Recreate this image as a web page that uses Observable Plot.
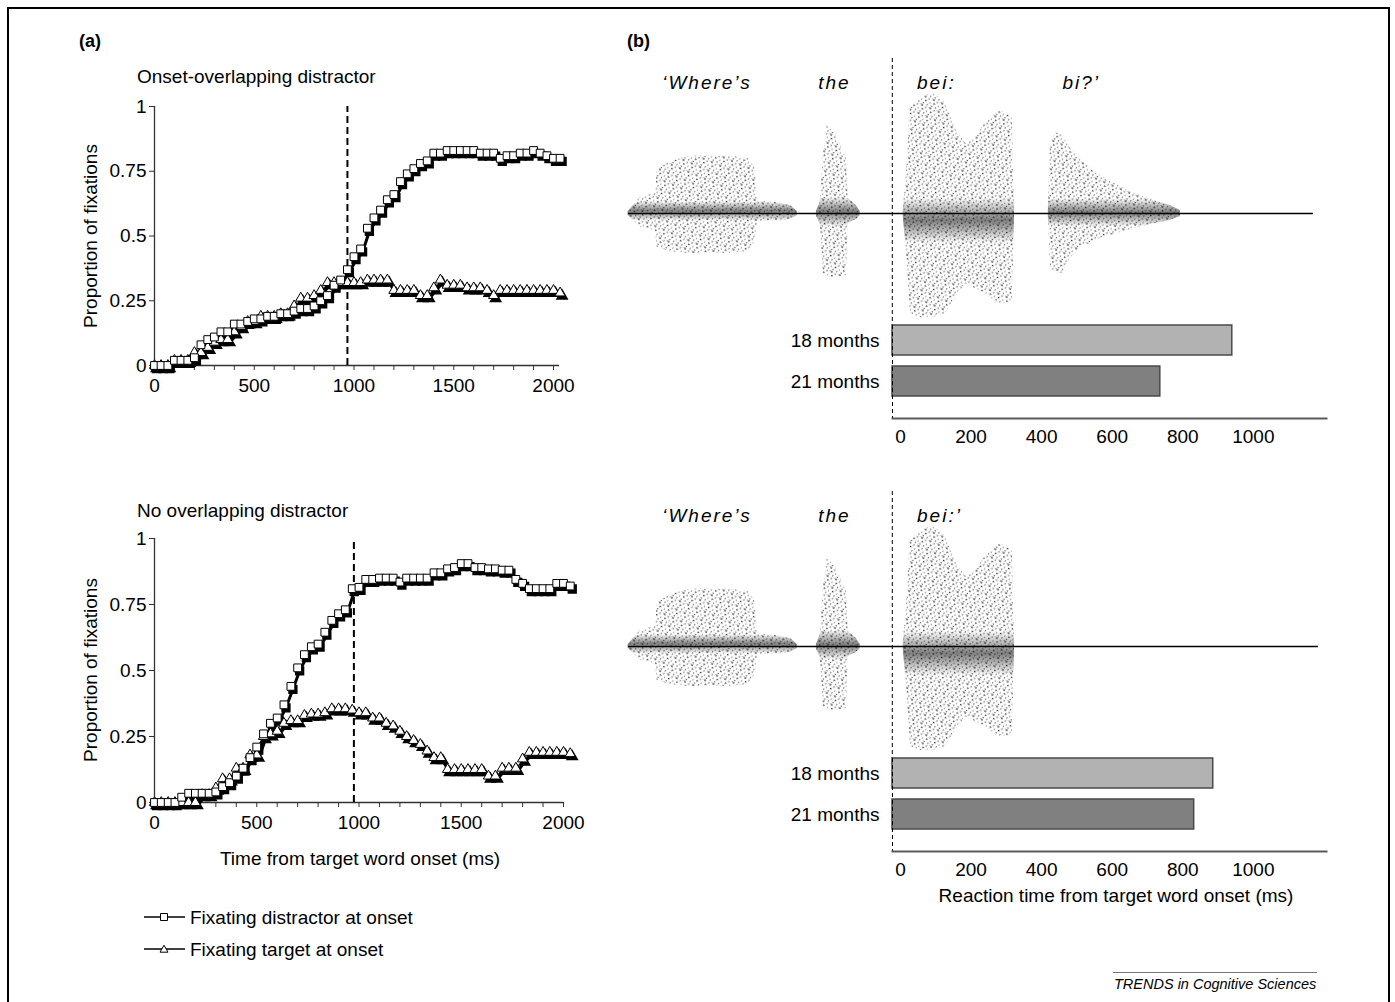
<!DOCTYPE html>
<html>
<head>
<meta charset="utf-8">
<script src="https://cdn.jsdelivr.net/npm/d3@7"></script>
<script src="https://cdn.jsdelivr.net/npm/@observablehq/plot@0.6"></script>
<style>
  html,body{margin:0;padding:0;background:#fff;}
  #fig{position:relative;width:1395px;height:1002px;overflow:hidden;font-family:"Liberation Sans",Arial,Helvetica,sans-serif;color:#000;}
  #frame{position:absolute;left:7px;top:7px;width:1383px;height:1030px;border:2px solid #000;box-sizing:border-box;}
  .t{position:absolute;white-space:nowrap;line-height:1;font-size:19px;}
  .mid{transform:translate(0,-50%);}
  .ctr{transform:translate(-50%,-50%);}
  .rot{transform:translate(-50%,-50%) rotate(-90deg);}
  .chart{position:absolute;}
  .chart svg{overflow:visible;}
</style>
</head>
<body>
<div id="fig">
  <div id="frame"></div>
  <svg width="0" height="0" style="position:absolute;left:0;top:0">
    <defs>
      <pattern id="stip" width="9" height="9" patternUnits="userSpaceOnUse" patternTransform="rotate(23)">
        <circle cx="1" cy="1" r="0.85" fill="#111"/>
        <circle cx="5.2" cy="1.9" r="0.7" fill="#3a3a3a"/>
        <circle cx="2.8" cy="4.6" r="0.8" fill="#1a1a1a"/>
        <circle cx="7.4" cy="5.1" r="0.65" fill="#555"/>
        <circle cx="1.3" cy="7.6" r="0.7" fill="#2a2a2a"/>
        <circle cx="5.6" cy="7.8" r="0.6" fill="#111"/>
        <circle cx="8.2" cy="0.6" r="0.5" fill="#777"/>
      </pattern>
      <linearGradient id="core" x1="0" y1="0" x2="0" y2="1">
        <stop offset="0" stop-color="#000" stop-opacity="0"/>
        <stop offset="0.47" stop-color="#000" stop-opacity="0"/>
        <stop offset="0.57" stop-color="#000" stop-opacity="0.5"/>
        <stop offset="0.67" stop-color="#000" stop-opacity="0"/>
        <stop offset="1" stop-color="#000" stop-opacity="0"/>
      </linearGradient>
    </defs>
  </svg>
</div>
<script>
// ---------------- DATA ----------------
// (a) eye-movement curves, sampled every video frame (ms from target word onset)
const timeMs = [0,33,67,100,133,167,200,233,267,300,333,367,400,433,467,500,533,567,600,633,667,700,733,767,800,833,867,900,933,967,1000,1033,1067,1100,1133,1167,1200,1233,1267,1300,1333,1367,1400,1433,1467,1500,1533,1567,1600,1633,1667,1700,1733,1767,1800,1833,1867,1900,1933,1967,2000,2033];

// Onset-overlapping distractor panel
const overlapDistractor = [0,0,0,0.02,0.02,0.02,0.03,0.08,0.10,0.11,0.13,0.13,0.16,0.16,0.17,0.18,0.18,0.19,0.19,0.20,0.20,0.21,0.22,0.22,0.23,0.25,0.27,0.31,0.33,0.37,0.42,0.45,0.53,0.57,0.60,0.64,0.66,0.71,0.74,0.76,0.78,0.79,0.82,0.82,0.83,0.83,0.83,0.83,0.83,0.82,0.82,0.82,0.80,0.81,0.81,0.82,0.82,0.83,0.82,0.81,0.80,0.80];
const overlapTarget = [0,0,0,0.02,0.02,0.02,0.05,0.05,0.07,0.09,0.10,0.10,0.13,0.15,0.17,0.17,0.19,0.19,0.19,0.20,0.20,0.23,0.26,0.26,0.27,0.29,0.32,0.32,0.32,0.32,0.32,0.32,0.33,0.33,0.33,0.33,0.29,0.29,0.29,0.29,0.27,0.27,0.30,0.33,0.31,0.31,0.31,0.30,0.30,0.30,0.29,0.27,0.29,0.29,0.29,0.29,0.29,0.29,0.29,0.29,0.29,0.28];

// No overlapping distractor panel
const noOverlapDistractor = [0,0,0,0,0.02,0.035,0.035,0.035,0.035,0.04,0.06,0.075,0.10,0.13,0.17,0.21,0.26,0.30,0.32,0.37,0.44,0.51,0.56,0.59,0.60,0.645,0.69,0.715,0.73,0.81,0.815,0.845,0.845,0.85,0.85,0.85,0.835,0.85,0.85,0.85,0.85,0.87,0.87,0.885,0.89,0.905,0.905,0.89,0.89,0.885,0.885,0.88,0.88,0.845,0.83,0.81,0.81,0.81,0.81,0.83,0.83,0.82];
const noOverlapTarget = [0,0,0,0,0,0,0,0.03,0.03,0.055,0.09,0.09,0.13,0.13,0.18,0.18,0.25,0.26,0.27,0.30,0.31,0.31,0.33,0.335,0.335,0.34,0.355,0.355,0.355,0.35,0.34,0.34,0.32,0.32,0.30,0.29,0.27,0.25,0.235,0.22,0.195,0.17,0.17,0.125,0.125,0.125,0.125,0.125,0.125,0.10,0.10,0.13,0.13,0.13,0.165,0.19,0.19,0.19,0.19,0.19,0.19,0.185];

const onsetLineMs = {overlap: 967, noOverlap: 975};
const xTickMs = [0,100,200,300,400,500,600,700,800,900,1000,1100,1200,1300,1400,1500,1600,1700,1800,1900,2000];
const xLabelMs = [0,500,1000,1500,2000];
const yTicks = [0,0.25,0.5,0.75,1];

// (b) reaction times
const ageGroups = ["18 months", "21 months"];
const rtTwoWordMs = [963, 759];   // 'Where's the bei: bi?'
const rtOneWordMs = [909, 855];   // 'Where's the bei:'
const rtTicks = [0,200,400,600,800,1000];

// (b) utterance words and their start times (ms relative to target word onset)
const wordsTop = ["\u2018Where\u2019s", "the", "bei:", "bi?\u2019"];
const wordsBottom = ["\u2018Where\u2019s", "the", "bei:\u2019"];
const wordStartMs = [-652, -210, 70, 482];

// waveform amplitude envelopes: [ms, upper amplitude, lower amplitude] (px units)
const envWheres = [[-748,2,2],[-714,16,14],[-671,20,17],[-666,43,34],[-629,52,38],[-575,57,40],[-516,58,40],[-459,57,40],[-408,55,38],[-388,45,28],[-382,12,8],[-331,11,8],[-289,8,6],[-269,2,2]];
const envThe = [[-215,2,2],[-204,12,12],[-195,60,60],[-184,88,64],[-161,80,64],[-130,55,62],[-125,15,10],[-102,8,6],[-91,2,2]];
const envBei = [[31,3,3],[40,40,40],[51,106,100],[79,115,104],[116,121,104],[150,110,100],[178,85,85],[207,70,70],[235,75,75],[263,90,80],[300,103,90],[329,100,90],[340,95,85],[346,5,5]];
const envBi = [[442,3,3],[448,70,55],[462,81,60],[482,78,60],[504,65,45],[535,53,34],[589,38,25],[666,23,17],[731,14,11],[788,8,7],[816,3,3]];
const waveSpanTop = [-748, 1193];
const waveSpanBottom = [-748, 1207];

// ---------------- DRAWING ----------------
const FONT = '"Liberation Sans", Arial, Helvetica, sans-serif';
const fig = document.getElementById("fig");

function place(node, left, top) {
  const w = document.createElement("div");
  w.className = "chart";
  w.style.left = left + "px";
  w.style.top = top + "px";
  w.appendChild(node);
  fig.appendChild(w);
}
function label(text, x, y, cls, extra) {
  const d = document.createElement("div");
  d.className = "t " + (cls || "mid");
  d.textContent = text;
  d.style.left = x + "px";
  d.style.top = y + "px";
  if (extra) Object.assign(d.style, extra);
  fig.appendChild(d);
  return d;
}

function fixationChart(dist, targ, onset, box) {
  const rows = timeMs.map((t, i) => ({t, dist: dist[i], targ: targ[i]}));
  const sh = {dx: 2, dy: 3};
  return Plot.plot({
    width: box.width, height: box.height,
    marginLeft: box.ml, marginRight: box.mr, marginTop: box.mt, marginBottom: box.mb,
    x: {domain: [0, box.xEnd]},
    y: {domain: [0, 1]},
    style: {fontFamily: FONT, fontSize: "19px", color: "#000", background: "none", overflow: "visible"},
    marks: [
      Plot.axisX({ticks: xTickMs, tickSize: 5, tickPadding: 8, label: null, stroke: "#333",
                  tickFormat: d => xLabelMs.includes(d) ? String(d) : ""}),
      Plot.axisY({ticks: yTicks, tickSize: 5, tickPadding: 3, label: null, stroke: "#333",
                  tickFormat: d => String(d)}),
      Plot.ruleY([0], {x1: 0, x2: box.xEnd, stroke: "#333", strokeWidth: 1.3}),
      Plot.ruleX([0], {y1: 0, y2: 1, stroke: "#333", strokeWidth: 1.3}),
      Plot.ruleX([onset], {y1: 0, y2: 1, stroke: "#000", strokeWidth: 2, strokeDasharray: "7,4"}),
      Plot.line(rows, {x: "t", y: "targ", stroke: "#000", strokeWidth: 3, ...sh}),
      Plot.line(rows, {x: "t", y: "dist", stroke: "#000", strokeWidth: 3, ...sh}),
      Plot.dot(rows, {x: "t", y: "targ", symbol: "triangle", r: 3.8, fill: "#000", stroke: "#000", ...sh}),
      Plot.dot(rows, {x: "t", y: "dist", symbol: "square", r: 4.4, fill: "#000", stroke: "#000", ...sh}),
      Plot.dot(rows, {x: "t", y: "targ", symbol: "triangle", r: 3.8, fill: "#fff", stroke: "#000", strokeWidth: 1}),
      Plot.dot(rows, {x: "t", y: "dist", symbol: "square", r: 4.4, fill: "#fff", stroke: "#000", strokeWidth: 1})
    ]
  });
}

function waveChart(envs, span, words) {
  const names = ["w", "t", "b", "b2"];
  const rows = envs.flatMap((env, k) => env.map(([ms, up, dn]) => ({blob: names[k], ms, up, dn: -dn})));
  const wordRows = words.map((w, i) => ({w, ms: wordStartMs[i]}));
  return Plot.plot({
    width: 740, height: 270, marginLeft: 20, marginRight: 14, marginTop: 3, marginBottom: 0,
    x: {domain: [-770, 1230], axis: null},
    y: {domain: [-112, 155], axis: null},
    style: {fontFamily: FONT, fontSize: "19px", background: "none", overflow: "visible", letterSpacing: "2px"},
    marks: [
      Plot.areaY(rows, {x: "ms", y1: "dn", y2: "up", z: "blob", fill: "url(#stip)"}),
      Plot.areaY(rows, {x: "ms", y1: "dn", y2: "up", z: "blob", fill: "url(#core)"}),
      Plot.ruleY([0], {x1: span[0], x2: span[1], stroke: "#000", strokeWidth: 1.6}),
      Plot.ruleX([0], {stroke: "#000", strokeWidth: 1, strokeDasharray: "4,3"}),
      Plot.text(wordRows, {x: "ms", text: "w", frameAnchor: "top", dy: 17, textAnchor: "start",
                           fontStyle: "italic", fill: "#000"})
    ]
  });
}

function barChart(values) {
  const rows = ageGroups.map((age, i) => ({age, ms: values[i]}));
  return Plot.plot({
    width: 740, height: 135, marginLeft: 292, marginRight: 14, marginTop: 0, marginBottom: 42,
    x: {domain: [0, 1230]},
    y: {domain: ageGroups, paddingInner: 0.262, paddingOuter: 0.24, align: 0},
    color: {domain: ageGroups, range: ["#b2b2b2", "#808080"]},
    style: {fontFamily: FONT, fontSize: "19px", color: "#000", background: "none", overflow: "visible"},
    marks: [
      Plot.barX(rows, {x: "ms", y: "age", fill: "age", stroke: "#4a4a4a", strokeWidth: 1.5}),
      Plot.ruleX([0], {stroke: "#000", strokeWidth: 1, strokeDasharray: "4,3"}),
      Plot.frame({anchor: "bottom", stroke: "#5a5a5a", strokeWidth: 2}),
      Plot.axisX({ticks: rtTicks, tickSize: 0, tickPadding: 11, dx: 8, label: null, tickFormat: d => String(d)}),
      Plot.axisY({tickSize: 0, tickPadding: 13, label: null})
    ]
  });
}

// panel (a)
place(fixationChart(overlapDistractor, overlapTarget, onsetLineMs.overlap,
  {width: 539, height: 310, ml: 114, mr: 20, mt: 11, mb: 40, xEnd: 2030}), 40, 95);
place(fixationChart(noOverlapDistractor, noOverlapTarget, onsetLineMs.noOverlap,
  {width: 543, height: 320, ml: 114, mr: 20, mt: 13, mb: 43, xEnd: 2000}), 40, 525);

// panel (b)
place(waveChart([envWheres, envThe, envBei, envBi], waveSpanTop, wordsTop), 600, 55);
place(barChart(rtTwoWordMs), 600, 325);
place(waveChart([envWheres, envThe, envBei], waveSpanBottom, wordsBottom), 600, 488);
place(barChart(rtOneWordMs), 600, 758);

// text
label("(a)", 79, 41, "mid", {fontWeight: "bold", fontSize: "18px"});
label("(b)", 627, 41, "mid", {fontWeight: "bold", fontSize: "18px"});
label("Onset-overlapping distractor", 137, 76);
label("No overlapping distractor", 137, 510);
label("Proportion of fixations", 90, 236, "rot");
label("Proportion of fixations", 90, 670, "rot");
label("Time from target word onset (ms)", 360, 858, "ctr");
label("Reaction time from target word onset (ms)", 1116, 895, "ctr");

// legend
function legendRow(symbol, text, y) {
  const ns = "http://www.w3.org/2000/svg";
  const svg = document.createElementNS(ns, "svg");
  svg.setAttribute("width", 46); svg.setAttribute("height", 16);
  svg.style.position = "absolute"; svg.style.left = "142px"; svg.style.top = (y - 8) + "px";
  const ln = document.createElementNS(ns, "line");
  ln.setAttribute("x1", 2); ln.setAttribute("x2", 43); ln.setAttribute("y1", 8); ln.setAttribute("y2", 8);
  ln.setAttribute("stroke", "#000"); ln.setAttribute("stroke-width", 1.3);
  svg.appendChild(ln);
  const p = document.createElementNS(ns, "path");
  p.setAttribute("d", symbol === "square" ? "M18.5,4.5h7v7h-7z" : "M22,4.2L26,11.2H18z");
  p.setAttribute("fill", "#fff"); p.setAttribute("stroke", "#000"); p.setAttribute("stroke-width", 1);
  svg.appendChild(p);
  fig.appendChild(svg);
  label(text, 190, y);
}
legendRow("square", "Fixating distractor at onset", 917);
legendRow("triangle", "Fixating target at onset", 949);

// caption
const rule = document.createElement("div");
Object.assign(rule.style, {position: "absolute", left: "1113px", top: "972px", width: "204px", height: "0", borderTop: "1.5px solid #777"});
fig.appendChild(rule);
label("TRENDS in Cognitive Sciences", 1114, 984, "mid", {fontStyle: "italic", fontSize: "14.5px"});
</script>
</body>
</html>
